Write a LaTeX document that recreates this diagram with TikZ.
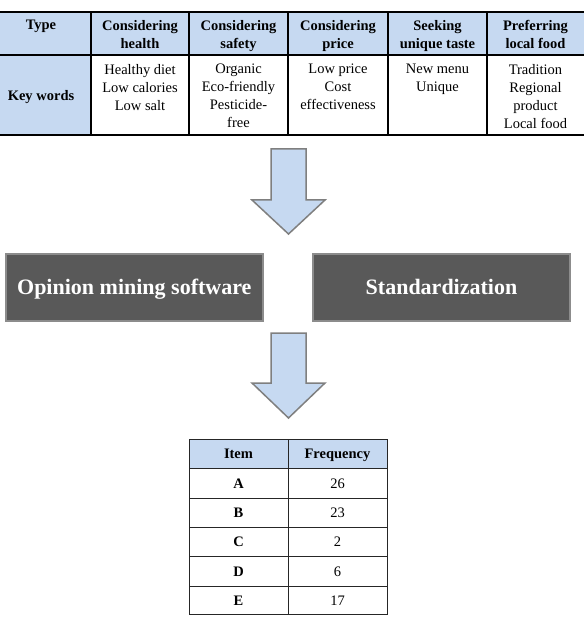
\documentclass[tikz,border=0pt]{standalone}
\usepackage{fontspec}
\setmainfont{Liberation Serif}
\definecolor{hdrblue}{HTML}{C6D9F1}
\definecolor{arrowblue}{HTML}{C6D9F1}
\definecolor{arrowedge}{HTML}{7F7F7F}
\definecolor{boxgray}{HTML}{595959}
\definecolor{boxedge}{HTML}{8C8C8C}
\begin{document}
\begin{tikzpicture}[x=1pt,y=-1pt,
  cell/.style={font=\fontsize{14.5}{18}\selectfont, inner sep=0pt, align=center, anchor=north},
  hcell/.style={cell, font=\fontsize{14.5}{18}\selectfont\bfseries},
  tcell/.style={font=\fontsize{14.5}{18}\selectfont, inner sep=0pt, anchor=base},
  tbcell/.style={tcell, font=\fontsize{14.5}{18}\selectfont\bfseries},
  box/.style={fill=boxgray, draw=boxedge, line width=1.5pt, minimum width=257pt,
    minimum height=67pt, text=white, font=\fontsize{22}{26}\selectfont\bfseries,
    inner sep=0pt, text height=14.5pt, text depth=0pt},
  blockarrow/.style={fill=arrowblue, draw=arrowedge, line width=1.5pt, line join=miter},
  gridline/.style={draw=black, line width=1.1pt},
  tgrid/.style={draw=black!85, line width=0.9pt}]
\useasboundingbox (0,0) rectangle (584,620);

% ---------- top table ----------
\fill[hdrblue] (0,12) rectangle (584,55);
\fill[hdrblue] (0,55) rectangle (91,135);
\draw[gridline] (0,12) -- (584,12);
\draw[gridline] (0,55) -- (584,55);
\draw[gridline, line width=1.6pt] (0,135) -- (584,135);
\foreach \cx in {91,189,288,388,487} {\draw[gridline] (\cx,12) -- (\cx,135);}

\node[hcell] (type) at (41,20) {Type};
\node[hcell] (h1) at (140,20) {Considering\\health};
\node[hcell] (h2) at (238.5,20) {Considering\\safety};
\node[hcell] (h3) at (338,20) {Considering\\price};
\node[hcell] (h4) at (437.5,20) {Seeking\\unique taste};
\node[hcell] (h5) at (535.5,20) {Preferring\\local food};

\node[tbcell] (kw) at (41,101) {Key words};
\node[cell] (b1) at (140,64) {Healthy diet\\Low calories\\Low salt};
\node[cell] (b2) at (238.5,64) {Organic\\Eco-friendly\\Pesticide-\\free};
\node[cell] (b3) at (338,64) {Low price\\Cost\\effectiveness};
\node[cell] (b4) at (437.5,64) {New menu\\Unique};
\node[cell] (b5) at (535.5,64) {Tradition\\Regional\\product\\Local food};

% ---------- arrow 1 ----------
\draw[blockarrow] (271,149) -- (306,149) -- (306,200) -- (325,200) -- (288.5,234)
  -- (252,200) -- (271,200) -- cycle;

% ---------- boxes ----------
\node[box] (oms) at (134.3,287.5) {Opinion mining software};
\node[box] (std) at (441.5,287.5) {Standardization};

% ---------- arrow 2 ----------
\draw[blockarrow] (271,333) -- (306,333) -- (306,383) -- (325,383) -- (288.5,418)
  -- (252,383) -- (271,383) -- cycle;

% ---------- bottom table ----------
\fill[hdrblue] (189,439) rectangle (387,468);
\draw[tgrid] (189,439) rectangle (387,614);
\foreach \ry in {468,498,527,556,586} {\draw[tgrid] (189,\ry) -- (387,\ry);}
\draw[tgrid] (288,439) -- (288,614);

\node[tbcell] (item) at (238.5,458.5) {Item};
\node[tbcell] (freq) at (337.5,458.5) {Frequency};
\node[tbcell] (ia) at (238.5,488) {A};
\node[tcell]  (fa) at (337.5,488) {26};
\node[tbcell] (ib) at (238.5,517.5) {B};
\node[tcell]  (fb) at (337.5,517.5) {23};
\node[tbcell] (ic) at (238.5,546.5) {C};
\node[tcell]  (fc) at (337.5,546.5) {2};
\node[tbcell] (id) at (238.5,576) {D};
\node[tcell]  (fd) at (337.5,576) {6};
\node[tbcell] (ie) at (238.5,605) {E};
\node[tcell]  (fe) at (337.5,605) {17};
\end{tikzpicture}
\end{document}
